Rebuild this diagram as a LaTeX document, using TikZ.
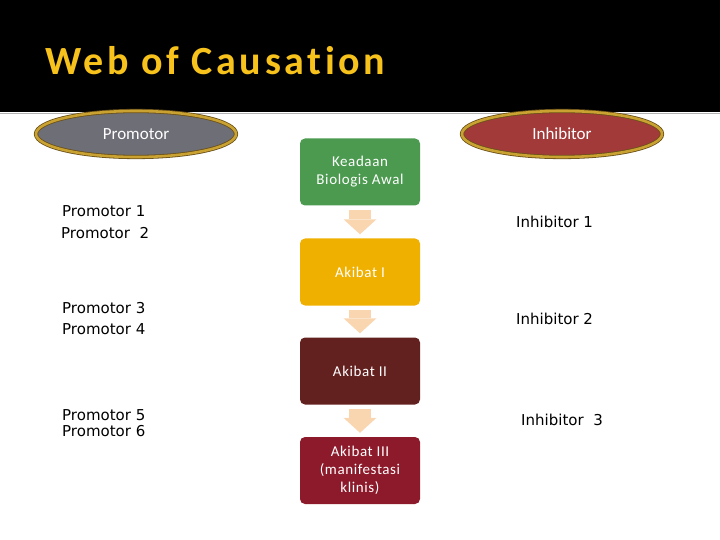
\documentclass[tikz,border=0pt]{standalone}
\usepackage{fontspec}
\setmainfont{Carlito}
\newfontfamily\titlefont[LetterSpace=9, Ligatures=NoCommon]{Carlito}
\newfontfamily\boxfont[LetterSpace=4]{Carlito}
\newfontfamily\listfont{DejaVu Sans}
\usetikzlibrary{arrows.meta,shapes.geometric}
\definecolor{titlegold}{HTML}{F7C21B}
\definecolor{rimgold}{HTML}{C9A232}
\definecolor{rimdark}{HTML}{6A5018}
\definecolor{promogray}{HTML}{6E6E76}
\definecolor{inhibred}{HTML}{A33A3A}
\definecolor{boxgreen}{HTML}{4B9A4F}
\definecolor{boxamber}{HTML}{F0B000}
\definecolor{boxmaroon}{HTML}{62201F}
\definecolor{boxcrimson}{HTML}{8C1A2B}
\definecolor{arrowpeach}{HTML}{F9D5B0}
\begin{document}
\begin{tikzpicture}[x=1bp, y=-1bp,
    oval/.style={ellipse, minimum width=200bp, minimum height=46bp, draw=rimdark, line width=0.8bp,
        double=rimgold, double distance=2.6bp, text=white, font=\fontsize{17bp}{20bp}\selectfont},
    stage/.style={rectangle, rounded corners=5bp, minimum width=120bp, minimum height=67bp,
        inner sep=0pt, align=center, text=white, font=\boxfont\fontsize{15bp}{18bp}\selectfont},
    flow/.style={line width=22bp, draw=arrowpeach, shorten <=4bp, shorten >=4bp,
        -{Triangle[width=33bp, length=15bp, line width=0pt 0]}},
    item/.style={anchor=base west, inner sep=0pt, font=\listfont\fontsize{15bp}{18bp}\selectfont}]
    \useasboundingbox (0,0) rectangle (720,540);
    \fill[black] (0,0) rectangle (720,112);
    \draw[gray!60, line width=1.5bp] (0,113.5) -- (720,113.5);
    \node[anchor=base west, inner sep=0pt, text=titlegold, font=\titlefont\bfseries\fontsize{40bp}{44bp}\selectfont] (title) at (45,75) {Web of Causation};

    \node[oval, fill=promogray] (promotor) at (136,134) {Promotor};
    \node[oval, fill=inhibred] (inhibitor) at (562,134) {Inhibitor};

    \node[stage, fill=boxgreen] (s1) at (360,172) {Keadaan\\Biologis Awal};
    \node[stage, fill=boxamber] (s2) at (360,272) {Akibat I};
    \node[stage, fill=boxmaroon] (s3) at (360,371) {Akibat II};
    \node[stage, fill=boxcrimson] (s4) at (360,470.5) {Akibat III\\(manifestasi\\klinis)};

    \draw[flow] (s1) -- (s2);
    \draw[flow] (s2) -- (s3);
    \draw[flow] (s3) -- (s4);

    \node[item] (p1) at (62,217) {Promotor 1};
    \node[item] (p2) at (61,239) {Promotor\ \ 2};
    \node[item] (p3) at (62,313) {Promotor 3};
    \node[item] (p4) at (62,334) {Promotor 4};
    \node[item] (p5) at (62,420) {Promotor 5};
    \node[item] (p6) at (62,436) {Promotor 6};

    \node[item] (i1) at (516,228) {Inhibitor 1};
    \node[item] (i2) at (516,324) {Inhibitor 2};
    \node[item] (i3) at (521,425) {Inhibitor\ \ 3};
\end{tikzpicture}
\end{document}
